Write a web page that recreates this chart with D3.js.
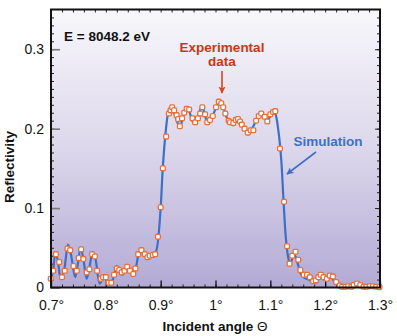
<!DOCTYPE html>
<html>
<head>
<meta charset="utf-8">
<script src="https://cdn.jsdelivr.net/npm/d3@7"></script>
<style>
  body { margin: 0; background: #fff; }
  svg { display: block; font-family: "Liberation Sans", Arial, sans-serif; }
</style>
</head>
<body>
<div id="chart"></div>
<script>
// measured reflectivity (open markers)
const expAngle = [
  0.6995, 0.704, 0.709, 0.715, 0.720, 0.725, 0.730, 0.735, 0.741, 0.747,
  0.7505, 0.755, 0.759, 0.765, 0.770, 0.775, 0.780, 0.784, 0.791, 0.795,
  0.800, 0.805, 0.810, 0.815, 0.820, 0.8245, 0.829, 0.834, 0.839, 0.844,
  0.850, 0.854, 0.859, 0.865, 0.871, 0.876, 0.880, 0.8855, 0.890, 0.895,
  0.900, 0.904, 0.910, 0.915, 0.918, 0.921, 0.9245, 0.929, 0.932, 0.935,
  0.939, 0.943, 0.9475, 0.952, 0.958, 0.963, 0.968, 0.972, 0.976, 0.981,
  0.985, 0.990, 0.995, 1.001, 1.006, 1.0105, 1.014, 1.018, 1.024, 1.0265,
  1.0325, 1.037, 1.041, 1.0447, 1.048, 1.053, 1.059, 1.064, 1.069, 1.074,
  1.079, 1.0835, 1.0897, 1.0945, 1.100, 1.105, 1.109, 1.1176, 1.125, 1.1305,
  1.135, 1.140, 1.146, 1.151, 1.1547, 1.161, 1.167, 1.172, 1.178, 1.183,
  1.1875, 1.192, 1.197, 1.203, 1.2085, 1.214, 1.220, 1.2265, 1.231, 1.237,
  1.242, 1.248, 1.252, 1.258, 1.264, 1.270, 1.275, 1.281, 1.287, 1.293, 1.299
];
const expRefl = [
  0.011, 0.021, 0.042, 0.032, 0.013, 0.021, 0.049, 0.047, 0.027, 0.021,
  0.037, 0.048, 0.036, 0.019, 0.023, 0.042, 0.039, 0.021, 0.011, 0.013,
  0.013, 0.006, 0.006, 0.016, 0.024, 0.022, 0.019, 0.021, 0.026, 0.021,
  0.017, 0.024, 0.042, 0.047, 0.042, 0.038, 0.040, 0.041, 0.042, 0.064,
  0.101, 0.150, 0.190, 0.219, 0.223, 0.227, 0.223, 0.217, 0.212, 0.203,
  0.213, 0.220, 0.225, 0.224, 0.213, 0.208, 0.213, 0.219, 0.227, 0.218,
  0.208, 0.211, 0.216, 0.227, 0.234, 0.232, 0.227, 0.219, 0.210, 0.208,
  0.207, 0.211, 0.212, 0.209, 0.205, 0.200, 0.195, 0.198, 0.198, 0.210,
  0.216, 0.219, 0.215, 0.209, 0.218, 0.221, 0.222, 0.175, 0.108, 0.052,
  0.030, 0.040, 0.045, 0.035, 0.022, 0.016, 0.016, 0.013, 0.008, 0.009,
  0.013, 0.016, 0.013, 0.011, 0.015, 0.014, 0.007, 0.0025, 0.001, 0.001,
  0.0016, 0.001, 0.003, 0.005, 0.003, 0.001, 0.001, 0.0016, 0.0016, 0.001, 0.0005
];

// simulated curve
const simAngle = [
  0.700, 0.704, 0.708, 0.712, 0.718, 0.724, 0.731, 0.736, 0.744, 0.749,
  0.754, 0.759, 0.765, 0.770, 0.776, 0.781, 0.789, 0.794, 0.799, 0.805,
  0.810, 0.815, 0.820, 0.825, 0.830, 0.838, 0.845, 0.850, 0.855, 0.861,
  0.866, 0.872, 0.880, 0.887, 0.892, 0.896, 0.900, 0.904, 0.909, 0.914,
  0.919, 0.925, 0.931, 0.935, 0.941, 0.947, 0.952, 0.957, 0.962, 0.968,
  0.975, 0.980, 0.985, 0.990, 0.996, 1.002, 1.007, 1.012, 1.018, 1.024,
  1.030, 1.037, 1.043, 1.050, 1.057, 1.063, 1.069, 1.075, 1.082, 1.088,
  1.094, 1.100, 1.107, 1.111, 1.116, 1.120, 1.124, 1.128, 1.132, 1.136,
  1.141, 1.145, 1.150, 1.155, 1.162, 1.170, 1.178, 1.185, 1.192, 1.198,
  1.206, 1.212, 1.218, 1.225, 1.232, 1.240, 1.250, 1.258, 1.265, 1.275,
  1.290, 1.300
];
const simRefl = [
  0.010, 0.022, 0.043, 0.035, 0.011, 0.022, 0.054, 0.043, 0.013, 0.030,
  0.050, 0.036, 0.011, 0.025, 0.044, 0.036, 0.005, 0.010, 0.011, 0.005,
  0.006, 0.015, 0.027, 0.022, 0.016, 0.024, 0.018, 0.019, 0.026, 0.044,
  0.045, 0.040, 0.038, 0.040, 0.046, 0.065, 0.100, 0.152, 0.195, 0.220,
  0.226, 0.219, 0.207, 0.203, 0.214, 0.226, 0.222, 0.211, 0.206, 0.214,
  0.228, 0.220, 0.208, 0.208, 0.218, 0.228, 0.234, 0.231, 0.219, 0.209,
  0.207, 0.213, 0.211, 0.203, 0.196, 0.198, 0.203, 0.212, 0.220, 0.216,
  0.209, 0.216, 0.223, 0.214, 0.190, 0.160, 0.110, 0.065, 0.040, 0.029,
  0.038, 0.040, 0.030, 0.018, 0.012, 0.010, 0.006, 0.008, 0.013, 0.010,
  0.014, 0.012, 0.006, 0.002, 0.001, 0.001, 0.001, 0.004, 0.002, 0.001,
  0.001, 0.001
];

const xTicks = [0.7, 0.8, 0.9, 1.0, 1.1, 1.2, 1.3];
const yTicks = [0, 0.1, 0.2, 0.3];

const width = 397, height = 336;
const box = { left: 51, right: 380, top: 9.5, bottom: 287.5 };

const x = d3.scaleLinear().domain([0.7, 1.3]).range([box.left, box.right]);
const y = d3.scaleLinear().domain([0, 0.35]).range([box.bottom, box.top]);

const svg = d3.select("#chart").append("svg")
  .attr("width", width)
  .attr("height", height);

const defs = svg.append("defs");
const grad = defs.append("linearGradient")
  .attr("id", "bg")
  .attr("x1", 0).attr("y1", 0).attr("x2", 0).attr("y2", 1);
grad.append("stop").attr("offset", "0%").attr("stop-color", "#f8f7fb");
grad.append("stop").attr("offset", "50%").attr("stop-color", "#dcd7eb");
grad.append("stop").attr("offset", "100%").attr("stop-color", "#b3aad5");

function arrowHead(id, color) {
  defs.append("marker")
    .attr("id", id)
    .attr("viewBox", "0 0 10 10")
    .attr("refX", 9).attr("refY", 5)
    .attr("markerWidth", 4.5).attr("markerHeight", 4.5)
    .attr("orient", "auto")
    .append("path")
    .attr("d", "M0,0 L10,5 L0,10 L2.5,5 Z")
    .attr("fill", color);
}
arrowHead("arrRed", "#d8451c");
arrowHead("arrBlue", "#3f70c4");

// plot background
svg.append("rect")
  .attr("x", box.left).attr("y", box.top)
  .attr("width", box.right - box.left)
  .attr("height", box.bottom - box.top)
  .attr("fill", "url(#bg)");

// minor ticks on all four sides
const minorX = d3.range(0.72, 1.29, 0.02);
const minorY = d3.range(0.01, 0.35, 0.01);

svg.append("g")
  .attr("transform", `translate(0,${box.bottom})`)
  .call(d3.axisBottom(x).tickValues(minorX).tickSize(-3).tickFormat(""))
  .call(g => g.select(".domain").remove());
svg.append("g")
  .attr("transform", `translate(0,${box.top})`)
  .call(d3.axisTop(x).tickValues(minorX).tickSize(-3).tickFormat(""))
  .call(g => g.select(".domain").remove());
svg.append("g")
  .attr("transform", `translate(${box.left},0)`)
  .call(d3.axisLeft(y).tickValues(minorY).tickSize(-3).tickFormat(""))
  .call(g => g.select(".domain").remove());
svg.append("g")
  .attr("transform", `translate(${box.right},0)`)
  .call(d3.axisRight(y).tickValues(minorY).tickSize(-3).tickFormat(""))
  .call(g => g.select(".domain").remove());
svg.append("g")
  .attr("transform", `translate(${box.right},0)`)
  .call(d3.axisRight(y).tickValues([0.1, 0.2, 0.3]).tickSize(-5).tickFormat(""))
  .call(g => g.select(".domain").remove());

svg.selectAll(".tick line").attr("stroke", "#222").attr("stroke-width", 1);

// major axes
const xAxis = svg.append("g")
  .attr("transform", `translate(0,${box.bottom})`)
  .call(d3.axisBottom(x).tickValues(xTicks).tickSize(-7).tickPadding(13)
    .tickFormat(d => (+d.toFixed(1)) + "°"));
xAxis.select(".domain").remove();
xAxis.selectAll("line").attr("stroke", "#111").attr("stroke-width", 1.3);
xAxis.selectAll("text")
  .attr("font-size", 14).attr("fill", "#111");

const yAxis = svg.append("g")
  .attr("transform", `translate(${box.left},0)`)
  .call(d3.axisLeft(y).tickValues(yTicks).tickSize(-9).tickPadding(7)
    .tickFormat(d => d === 0 ? "0" : d.toFixed(1)));
yAxis.select(".domain").remove();
yAxis.selectAll("line").attr("stroke", "#7a7a7a").attr("stroke-width", 1.6);
yAxis.selectAll("text")
  .attr("font-size", 14).attr("fill", "#111");

// simulation curve
const sim = simAngle.map((a, i) => [a, simRefl[i]]);
svg.append("path")
  .datum(sim)
  .attr("fill", "none")
  .attr("stroke", "#3d6fc6")
  .attr("stroke-width", 2.2)
  .attr("stroke-linejoin", "round")
  .attr("d", d3.line().x(d => x(d[0])).y(d => y(d[1])).curve(d3.curveCatmullRom));

// experimental points
const exp = expAngle.map((a, i) => [a, expRefl[i]]);
svg.append("g")
  .selectAll("rect")
  .data(exp)
  .join("rect")
  .attr("x", d => x(d[0]) - 2.4)
  .attr("y", d => y(d[1]) - 2.4)
  .attr("width", 4.8).attr("height", 4.8)
  .attr("rx", 1.3)
  .attr("fill", "#fff")
  .attr("stroke", "#e4703a")
  .attr("stroke-width", 1.3);

// frame
svg.append("rect")
  .attr("x", box.left).attr("y", box.top)
  .attr("width", box.right - box.left)
  .attr("height", box.bottom - box.top)
  .attr("fill", "none")
  .attr("stroke", "#111")
  .attr("stroke-width", 2);

// annotations
svg.append("text")
  .attr("x", 64).attr("y", 41)
  .attr("font-size", 13.5).attr("font-weight", "bold").attr("fill", "#111")
  .text("E = 8048.2 eV");

const expLabel = svg.append("text")
  .attr("text-anchor", "middle")
  .attr("font-size", 13.5).attr("font-weight", "bold").attr("fill", "#cf3413");
expLabel.append("tspan").attr("x", 222).attr("y", 52).text("Experimental");
expLabel.append("tspan").attr("x", 222).attr("y", 65.5).text("data");

svg.append("line")
  .attr("x1", 222).attr("y1", 71).attr("x2", 222).attr("y2", 93)
  .attr("stroke", "#d8451c").attr("stroke-width", 1.6)
  .attr("marker-end", "url(#arrRed)");

svg.append("text")
  .attr("x", 328).attr("y", 146)
  .attr("text-anchor", "middle")
  .attr("font-size", 13.5).attr("font-weight", "bold").attr("fill", "#3f70c4")
  .text("Simulation");

svg.append("line")
  .attr("x1", 316).attr("y1", 152).attr("x2", 287).attr("y2", 174)
  .attr("stroke", "#3f70c4").attr("stroke-width", 1.6)
  .attr("marker-end", "url(#arrBlue)");

// axis titles
svg.append("text")
  .attr("x", 215).attr("y", 331)
  .attr("text-anchor", "middle")
  .attr("font-size", 13.5).attr("font-weight", "bold").attr("fill", "#111")
  .text("Incident angle ")
  .append("tspan").attr("font-weight", "normal").text("Θ");

svg.append("text")
  .attr("transform", "translate(14,167) rotate(-90)")
  .attr("text-anchor", "middle")
  .attr("font-size", 13.5).attr("font-weight", "bold").attr("fill", "#111")
  .text("Reflectivity");
</script>
</body>
</html>
